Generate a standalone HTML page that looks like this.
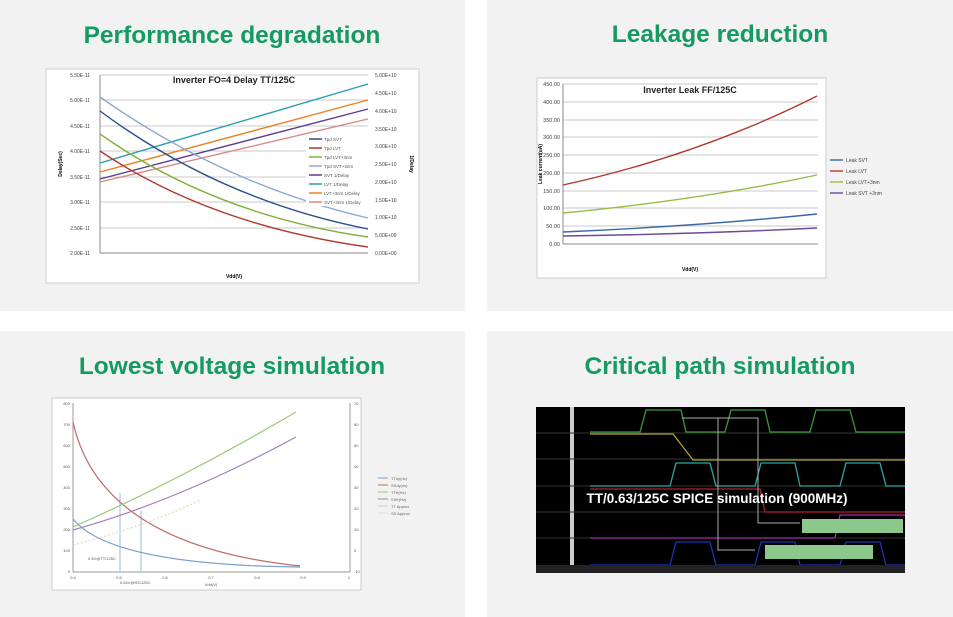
<!DOCTYPE html>
<html><head><meta charset="utf-8"><style>
html,body{margin:0;padding:0;background:#fff}
svg{display:block}
text{font-family:"Liberation Sans",Arial,sans-serif}
</style></head><body>
<svg width="953" height="617" viewBox="0 0 953 617" xmlns="http://www.w3.org/2000/svg">
<rect width="953" height="617" fill="#fff"/>
<rect x="0" y="0" width="465" height="311" fill="#f2f2f2"/>
<rect x="487" y="0" width="466" height="311" fill="#f2f2f2"/>
<rect x="0" y="331" width="465" height="286" fill="#f2f2f2"/>
<rect x="487" y="331" width="466" height="286" fill="#f2f2f2"/>
<g font-weight="bold" font-size="24.5" fill="#159a62" text-anchor="middle">
<text x="232" y="43">Performance degradation</text>
<text x="720" y="42">Leakage reduction</text>
<text x="232" y="374">Lowest voltage simulation</text>
<text x="720" y="374">Critical path simulation</text>
</g>

<!-- Top-left chart -->
<rect x="46" y="69" width="373" height="214" fill="#fff" stroke="#ccc"/>
<g stroke="#c8c8c8" stroke-width="1">
<line x1="100" y1="75" x2="368" y2="75"/><line x1="100" y1="100" x2="368" y2="100"/>
<line x1="100" y1="126" x2="368" y2="126"/><line x1="100" y1="151" x2="368" y2="151"/>
<line x1="100" y1="177" x2="368" y2="177"/><line x1="100" y1="202" x2="368" y2="202"/>
<line x1="100" y1="228" x2="368" y2="228"/></g>
<line x1="100" y1="253" x2="368" y2="253" stroke="#888"/>
<line x1="100" y1="75" x2="100" y2="253" stroke="#888"/>
<g font-size="5" fill="#444" text-anchor="end">
<text x="90" y="77">5.50E-11</text><text x="90" y="102">5.00E-11</text><text x="90" y="128">4.50E-11</text>
<text x="90" y="153">4.00E-11</text><text x="90" y="179">3.50E-11</text><text x="90" y="204">3.00E-11</text>
<text x="90" y="230">2.50E-11</text><text x="90" y="255">2.00E-11</text></g>
<g font-size="5" fill="#444">
<text x="375" y="77">5.00E+10</text><text x="375" y="95">4.50E+10</text><text x="375" y="113">4.00E+10</text>
<text x="375" y="131">3.50E+10</text><text x="375" y="148">3.00E+10</text><text x="375" y="166">2.50E+10</text>
<text x="375" y="184">2.00E+10</text><text x="375" y="202">1.50E+10</text><text x="375" y="219">1.00E+10</text>
<text x="375" y="237">5.00E+09</text><text x="375" y="255">0.00E+00</text></g>
<text x="234" y="83" font-size="9" font-weight="bold" text-anchor="middle" fill="#222">Inverter FO=4 Delay TT/125C</text>
<text x="234" y="278" font-size="5" font-weight="bold" text-anchor="middle">Vdd(V)</text>
<text transform="translate(62,164) rotate(-90)" font-size="5" font-weight="bold" text-anchor="middle">Delay(Sec)</text>
<text transform="translate(410,164) rotate(90)" font-size="5" font-weight="bold" text-anchor="middle">1/Delay</text>
<g fill="none" stroke-width="1.4">
<path d="M100,163 L368,84" stroke="#2a9fb0"/>
<path d="M100,172 L368,100" stroke="#ee8020"/>
<path d="M100,179 L368,109" stroke="#5a3c90"/>
<path d="M100,182 L368,119" stroke="#d88a8a"/>
<path d="M100,111 Q220,200 368,229" stroke="#2c4f8a"/>
<path d="M100,151 Q210,225 368,247" stroke="#b03a30"/>
<path d="M100,134 Q215,215 368,237" stroke="#86b03a"/>
<path d="M100,97 Q225,185 368,218" stroke="#8ea8d2"/>
</g>
<rect x="306" y="136" width="64" height="70" fill="#fff"/>
<g stroke-width="1.5">
<line x1="309" y1="139" x2="322" y2="139" stroke="#2c4f8a"/><line x1="309" y1="148" x2="322" y2="148" stroke="#b03a30"/>
<line x1="309" y1="157" x2="322" y2="157" stroke="#86b03a"/><line x1="309" y1="166" x2="322" y2="166" stroke="#8ea8d2"/>
<line x1="309" y1="175" x2="322" y2="175" stroke="#5a3c90"/><line x1="309" y1="184" x2="322" y2="184" stroke="#2a9fb0"/>
<line x1="309" y1="193" x2="322" y2="193" stroke="#ee8020"/><line x1="309" y1="202" x2="322" y2="202" stroke="#d88a8a"/></g>
<g font-size="4.5" fill="#555">
<text x="324" y="141">Tpd SVT</text><text x="324" y="150">Tpd LVT</text><text x="324" y="159">Tpd LVT+3nm</text>
<text x="324" y="168">Tpd SVT+3nm</text><text x="324" y="177">SVT 1/Delay</text><text x="324" y="186">LVT 1/Delay</text>
<text x="324" y="195">LVT+3nm 1/Delay</text><text x="324" y="204">SVT+3nm 1/Delay</text></g>

<!-- Top-right chart -->
<rect x="537" y="78" width="289" height="200" fill="#fff" stroke="#ccc"/>
<g stroke="#c8c8c8">
<line x1="563" y1="84" x2="818" y2="84"/><line x1="563" y1="102" x2="818" y2="102"/><line x1="563" y1="120" x2="818" y2="120"/>
<line x1="563" y1="137" x2="818" y2="137"/><line x1="563" y1="155" x2="818" y2="155"/><line x1="563" y1="173" x2="818" y2="173"/>
<line x1="563" y1="191" x2="818" y2="191"/><line x1="563" y1="208" x2="818" y2="208"/><line x1="563" y1="226" x2="818" y2="226"/></g>
<line x1="563" y1="244" x2="818" y2="244" stroke="#888"/><line x1="563" y1="84" x2="563" y2="244" stroke="#888"/>
<g font-size="5.5" fill="#444" text-anchor="end">
<text x="560" y="86">450.00</text><text x="560" y="104">400.00</text><text x="560" y="122">350.00</text>
<text x="560" y="139">300.00</text><text x="560" y="157">250.00</text><text x="560" y="175">200.00</text>
<text x="560" y="193">150.00</text><text x="560" y="210">100.00</text><text x="560" y="228">50.00</text><text x="560" y="246">0.00</text></g>
<text x="690" y="93" font-size="9" font-weight="bold" text-anchor="middle" fill="#222">Inverter Leak FF/125C</text>
<text x="690" y="271" font-size="5" font-weight="bold" text-anchor="middle">Vdd(V)</text>
<text transform="translate(542,164) rotate(-90)" font-size="5" font-weight="bold" text-anchor="middle">Leak current(uA)</text>
<g fill="none" stroke-width="1.4">
<path d="M563,185 Q700,155 817,96" stroke="#b03a30"/>
<path d="M563,213 Q700,200 817,175" stroke="#96bc46"/>
<path d="M563,232 Q700,226 817,214" stroke="#3a68a8"/>
<path d="M563,236 Q700,234 817,228" stroke="#6a4a9a"/></g>
<g stroke-width="1.4">
<line x1="830" y1="160" x2="843" y2="160" stroke="#3a68a8"/><line x1="830" y1="171" x2="843" y2="171" stroke="#b03a30"/>
<line x1="830" y1="182" x2="843" y2="182" stroke="#96bc46"/><line x1="830" y1="193" x2="843" y2="193" stroke="#6a4a9a"/></g>
<g font-size="5" fill="#444">
<text x="846" y="162">Leak SVT</text><text x="846" y="173">Leak LVT</text><text x="846" y="184">Leak LVT+3nm</text><text x="846" y="195">Leak SVT +3nm</text></g>

<!-- Bottom-left chart -->
<rect x="52" y="398" width="309" height="192" fill="#fff" stroke="#ccc"/>
<line x1="73" y1="403" x2="73" y2="572" stroke="#999"/><line x1="73" y1="572" x2="350" y2="572" stroke="#999"/>
<line x1="350" y1="403" x2="350" y2="572" stroke="#999"/>
<g font-size="4" fill="#555" text-anchor="end">
<text x="70" y="405">800</text><text x="70" y="426">700</text><text x="70" y="447">600</text><text x="70" y="468">500</text>
<text x="70" y="489">400</text><text x="70" y="510">300</text><text x="70" y="531">200</text><text x="70" y="552">100</text><text x="70" y="573">0</text></g>
<g font-size="4" fill="#555">
<text x="354" y="405">70</text><text x="354" y="426">60</text><text x="354" y="447">50</text><text x="354" y="468">40</text>
<text x="354" y="489">30</text><text x="354" y="510">20</text><text x="354" y="531">10</text><text x="354" y="552">0</text><text x="354" y="573">-10</text></g>
<g font-size="4" fill="#555" text-anchor="middle">
<text x="73" y="579">0.4</text><text x="119" y="579">0.5</text><text x="165" y="579">0.6</text><text x="211" y="579">0.7</text>
<text x="257" y="579">0.8</text><text x="303" y="579">0.9</text><text x="349" y="579">1</text><text x="211" y="586">Vdd(V)</text></g>
<line x1="120" y1="493" x2="120" y2="572" stroke="#9ab8d8"/><line x1="141" y1="511" x2="141" y2="572" stroke="#9ab8d8"/>
<g fill="none" stroke-width="1.2">
<path d="M73,422 Q100,545 300,566" stroke="#c06868"/>
<path d="M73,519 Q110,565 300,567" stroke="#7aa0cc"/>
<path d="M73,527 Q180,480 296,412" stroke="#9cc878"/>
<path d="M73,530 Q180,500 296,437" stroke="#a080b8"/>
<path d="M73,545 Q150,525 200,500" stroke="#e8d8b8" stroke-dasharray="2,2"/></g>
<g font-size="4" fill="#555"><text x="88" y="560">0.5V@TT/125C</text><text x="120" y="584">0.54V@SS/125C</text></g>
<g stroke-width="1"><line x1="378" y1="478" x2="388" y2="478" stroke="#7aa0cc"/><line x1="378" y1="485" x2="388" y2="485" stroke="#c06868"/>
<line x1="378" y1="492" x2="388" y2="492" stroke="#9cc878"/><line x1="378" y1="499" x2="388" y2="499" stroke="#a080b8"/>
<line x1="378" y1="506" x2="388" y2="506" stroke="#ccc"/><line x1="378" y1="513" x2="388" y2="513" stroke="#ddd"/></g>
<g font-size="4" fill="#666"><text x="391" y="480">TTdy(ns)</text><text x="391" y="487">SSdy(ns)</text><text x="391" y="494">TTfr(Hz)</text>
<text x="391" y="501">SSfr(Hz)</text><text x="391" y="508">TT Approx</text><text x="391" y="515">SS Approx</text></g>

<!-- Bottom-right SPICE -->
<rect x="536" y="407" width="369" height="166" fill="#000"/>
<rect x="570" y="407" width="4" height="158" fill="#ccc"/>
<g stroke="#333"><line x1="536" y1="433" x2="905" y2="433"/><line x1="536" y1="459" x2="905" y2="459"/>
<line x1="536" y1="486" x2="905" y2="486"/><line x1="536" y1="512" x2="905" y2="512"/><line x1="536" y1="538" x2="905" y2="538"/></g>
<g fill="none" stroke-width="1.3">
<path d="M590,432 L640,432 L646,410 L681,410 L686,432 L725,432 L731,410 L765,410 L770,432 L810,432 L816,410 L850,410 L856,432 L905,432" stroke="#3a9a3a"/>
<path d="M590,434 L673,434 L693,460 L905,460" stroke="#b0a030"/>
<path d="M590,486 L670,486 L676,463 L710,463 L716,486 L755,486 L761,463 L795,463 L800,486 L840,486 L846,463 L880,463 L886,486 L905,486" stroke="#2aa8a8"/>
<path d="M590,489 L760,489 L765,512 L905,512" stroke="#b02030"/>
<path d="M590,538 L835,538 L840,515 L905,515" stroke="#a030a8"/>
<path d="M590,565 L670,565 L676,542 L710,542 L716,565 L755,565 L761,542 L795,542 L800,565 L840,565 L846,542 L880,542 L886,565 L905,565" stroke="#2030b0"/></g>
<g stroke="#aaa" fill="none"><path d="M682,418 L758,418 L758,523 L800,523"/><path d="M718,418 L718,550 L755,550"/></g>
<rect x="802" y="519" width="101" height="14" fill="#8cc88c"/>
<rect x="765" y="545" width="108" height="14" fill="#8cc88c"/>
<text x="717" y="503" font-size="13.5" font-weight="bold" fill="#fff" text-anchor="middle">TT/0.63/125C SPICE simulation (900MHz)</text>
<rect x="536" y="565" width="369" height="8" fill="#222"/>
</svg>
</body></html>
